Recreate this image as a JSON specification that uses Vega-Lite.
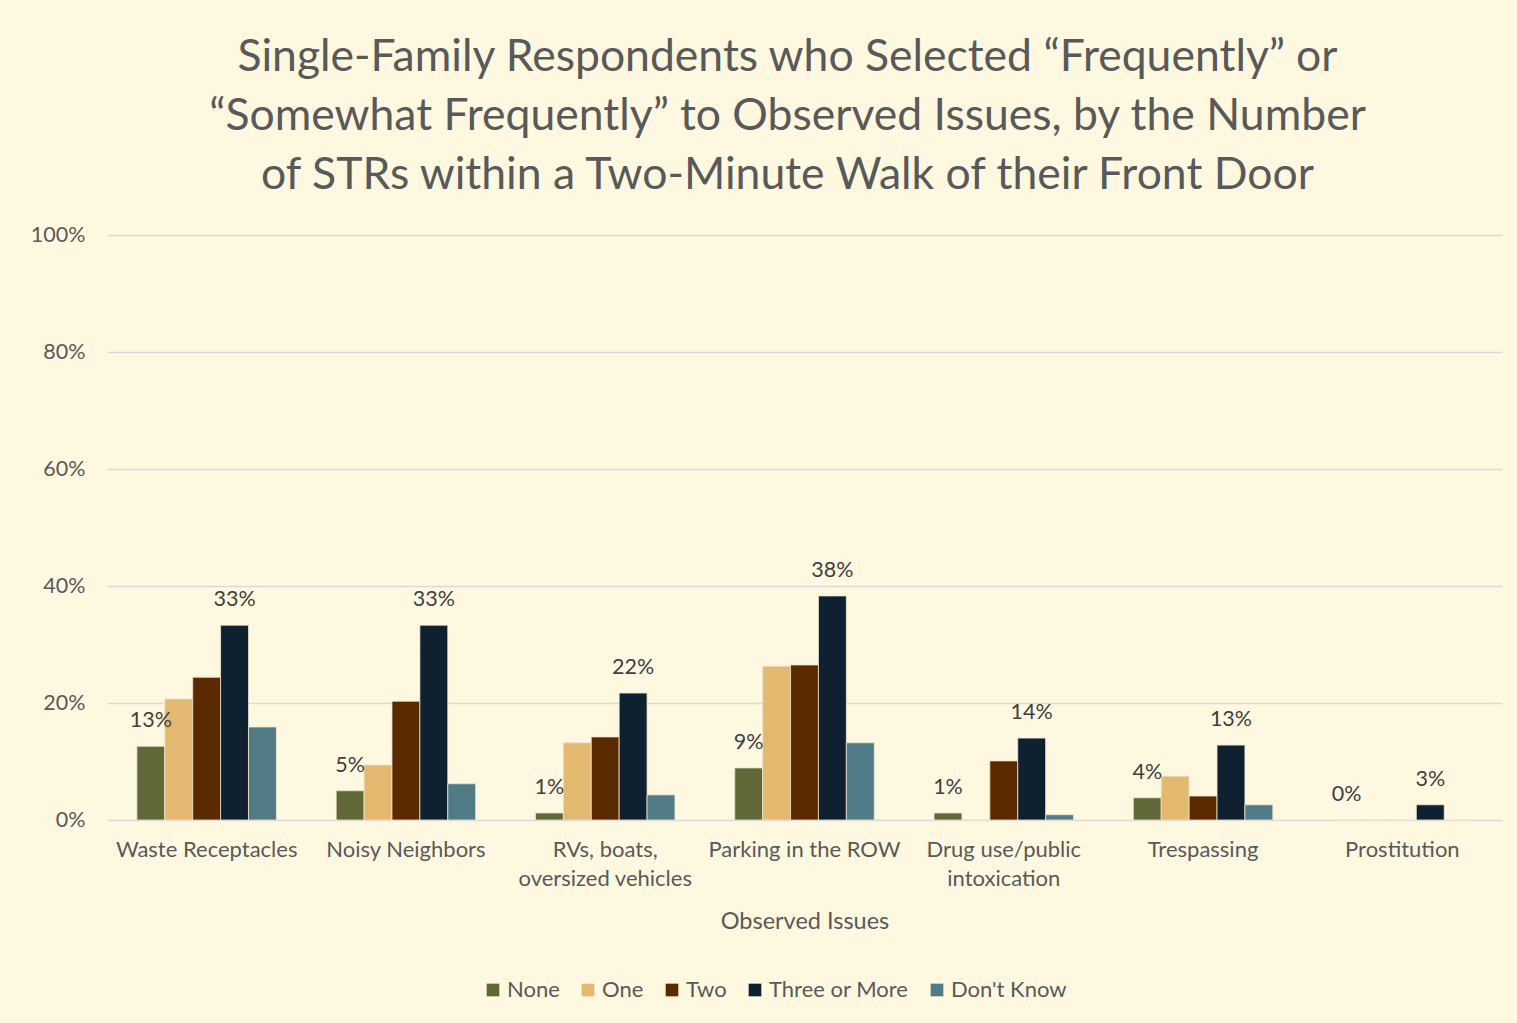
{
  "$schema": "https://vega.github.io/schema/vega-lite/v6.json",
  "width": 1395,
  "height": 585,
  "autosize": {"type": "none"},
  "padding": {"left": 107, "top": 235, "right": 15, "bottom": 203},
  "background": "#FFF8E0",
  "title": {
    "text": ["Single-Family Respondents who Selected “Frequently” or", "“Somewhat Frequently” to Observed Issues, by the Number", "of STRs within a Two-Minute Walk of their Front Door"],
    "font": "Lato",
    "fontSize": 44.5,
    "fontWeight": "normal",
    "color": "#595959",
    "lineHeight": 59,
    "anchor": "middle",
    "dx": -17,
    "offset": 26
  },
  "config": {
    "view": {"stroke": null},
    "font": "Lato"
  },
  "data": {
    "values": [
      {"issue": "Waste Receptacles", "group": "None", "value": 0.126},
      {"issue": "Waste Receptacles", "group": "One", "value": 0.207},
      {"issue": "Waste Receptacles", "group": "Two", "value": 0.244},
      {"issue": "Waste Receptacles", "group": "Three or More", "value": 0.333},
      {"issue": "Waste Receptacles", "group": "Don't Know", "value": 0.159},
      {"issue": "Noisy Neighbors", "group": "None", "value": 0.05},
      {"issue": "Noisy Neighbors", "group": "One", "value": 0.094},
      {"issue": "Noisy Neighbors", "group": "Two", "value": 0.203},
      {"issue": "Noisy Neighbors", "group": "Three or More", "value": 0.333},
      {"issue": "Noisy Neighbors", "group": "Don't Know", "value": 0.062},
      {"issue": "RVs, boats, oversized vehicles", "group": "None", "value": 0.012},
      {"issue": "RVs, boats, oversized vehicles", "group": "One", "value": 0.132},
      {"issue": "RVs, boats, oversized vehicles", "group": "Two", "value": 0.142},
      {"issue": "RVs, boats, oversized vehicles", "group": "Three or More", "value": 0.217},
      {"issue": "RVs, boats, oversized vehicles", "group": "Don't Know", "value": 0.043},
      {"issue": "Parking in the ROW", "group": "None", "value": 0.089},
      {"issue": "Parking in the ROW", "group": "One", "value": 0.263},
      {"issue": "Parking in the ROW", "group": "Two", "value": 0.265},
      {"issue": "Parking in the ROW", "group": "Three or More", "value": 0.383},
      {"issue": "Parking in the ROW", "group": "Don't Know", "value": 0.132},
      {"issue": "Drug use/public intoxication", "group": "None", "value": 0.012},
      {"issue": "Drug use/public intoxication", "group": "One", "value": 0},
      {"issue": "Drug use/public intoxication", "group": "Two", "value": 0.101},
      {"issue": "Drug use/public intoxication", "group": "Three or More", "value": 0.14},
      {"issue": "Drug use/public intoxication", "group": "Don't Know", "value": 0.009},
      {"issue": "Trespassing", "group": "None", "value": 0.038},
      {"issue": "Trespassing", "group": "One", "value": 0.075},
      {"issue": "Trespassing", "group": "Two", "value": 0.041},
      {"issue": "Trespassing", "group": "Three or More", "value": 0.128},
      {"issue": "Trespassing", "group": "Don't Know", "value": 0.026},
      {"issue": "Prostitution", "group": "None", "value": 0},
      {"issue": "Prostitution", "group": "One", "value": 0},
      {"issue": "Prostitution", "group": "Two", "value": 0},
      {"issue": "Prostitution", "group": "Three or More", "value": 0.026},
      {"issue": "Prostitution", "group": "Don't Know", "value": 0}
    ]
  },
  "encoding": {
    "x": {
      "field": "issue",
      "type": "nominal",
      "sort": null,
      "scale": {"paddingInner": 0.3, "paddingOuter": 0.15},
      "axis": {
        "title": "Observed Issues",
        "titleFont": "Lato",
        "titleFontSize": 23.5,
        "titleFontWeight": "normal",
        "titleColor": "#595959",
        "titlePadding": 20,
        "labelAngle": 0,
        "labelFont": "Lato",
        "labelFontSize": 22,
        "labelColor": "#595959",
        "labelPadding": 19,
        "labelLineHeight": 29,
        "labelLimit": 0,
        "labelOverlap": false,
        "labelExpr": "datum.label == 'RVs, boats, oversized vehicles' ? ['RVs, boats,', 'oversized vehicles'] : datum.label == 'Drug use/public intoxication' ? ['Drug use/public', 'intoxication'] : datum.label",
        "ticks": false,
        "domain": false,
        "grid": false
      }
    },
    "xOffset": {
      "field": "group",
      "type": "nominal",
      "sort": ["None", "One", "Two", "Three or More", "Don't Know"],
      "scale": {"paddingInner": 0, "paddingOuter": 0}
    },
    "y": {
      "field": "value",
      "type": "quantitative",
      "scale": {"domain": [0, 1]},
      "axis": {
        "title": null,
        "format": ".0%",
        "values": [0, 0.2, 0.4, 0.6, 0.8, 1],
        "labelFont": "Lato",
        "labelFontSize": 21.5,
        "labelColor": "#595959",
        "labelPadding": 22,
        "ticks": false,
        "domain": false,
        "gridColor": "#D9D9D9",
        "gridWidth": 1.5
      }
    }
  },
  "layer": [
    {
      "mark": {"type": "bar", "stroke": "#EDE6CF", "strokeWidth": 0.8},
      "encoding": {
        "color": {
          "field": "group",
          "type": "nominal",
          "sort": ["None", "One", "Two", "Three or More", "Don't Know"],
          "scale": {
            "domain": ["None", "One", "Two", "Three or More", "Don't Know"],
            "range": ["#606838", "#E2B96E", "#5C2A00", "#0F2030", "#517B87"]
          },
          "legend": {
            "title": null,
            "orient": "none",
            "direction": "horizontal",
            "legendX": 375,
            "legendY": 744,
            "symbolType": "square",
            "symbolSize": 160,
            "symbolStrokeWidth": 0,
            "labelFont": "Lato",
            "labelFontSize": 22,
            "labelColor": "#595959",
            "labelOffset": 3,
            "columnPadding": 17
          }
        }
      }
    },
    {
      "transform": [{"filter": "datum.group == 'None' || datum.group == 'Three or More'"}],
      "mark": {"type": "text", "baseline": "middle", "dy": -25, "font": "Lato", "fontSize": 21.5, "color": "#404040"},
      "encoding": {
        "text": {"field": "value", "type": "quantitative", "format": ".0%"}
      }
    }
  ]
}
